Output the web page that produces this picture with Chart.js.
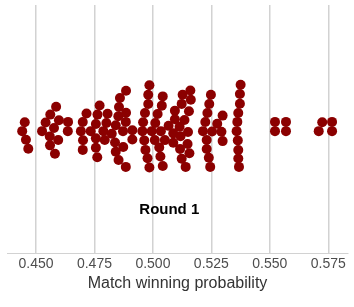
<!DOCTYPE html>
<html>
<head>
<meta charset="utf-8">
<script src="https://cdn.jsdelivr.net/npm/chart.js@4/dist/chart.umd.min.js"></script>
<style>
  html, body { margin: 0; padding: 0; background: #ffffff; }
  #wrap { width: 354px; height: 307px; }
</style>
</head>
<body>
<div id="wrap"><canvas id="c" width="354" height="307"></canvas></div>
<script>
// Match winning probability of each team (x) and its beeswarm offset (in dot rows)
const winProbability = [
  0.4452, 0.4441, 0.4457, 0.4467,
  0.4586, 0.4561, 0.4541, 0.4598, 0.4637, 0.4526, 0.4577, 0.4636, 0.4559, 0.4595, 0.4560, 0.4581,
  0.4772, 0.4716, 0.4763, 0.4806, 0.4700, 0.4756, 0.4801, 0.4692, 0.4734, 0.4788, 0.4701, 0.4756, 0.4794, 0.4700, 0.4756, 0.4762,
  0.4885, 0.4859, 0.4855, 0.4852, 0.4885, 0.4841, 0.4884, 0.4824, 0.4872, 0.4912, 0.4912, 0.4838, 0.4873, 0.4841, 0.4853, 0.4884,
  0.4985, 0.4980, 0.4980, 0.4966, 0.4958, 0.4955, 0.4963, 0.4968, 0.4977, 0.4985,
  0.5042, 0.5038, 0.5020, 0.5010, 0.4995, 0.5034, 0.5008, 0.5027, 0.5032, 0.5042, 0.5067, 0.5051,
  0.5094, 0.5094, 0.5087, 0.5087, 0.5127, 0.5160, 0.5162, 0.5123, 0.5154, 0.5135, 0.5114, 0.5150, 0.5118, 0.5148, 0.5116, 0.5156, 0.5123, 0.5140,
  0.5248, 0.5241, 0.5233, 0.5224, 0.5214, 0.5253, 0.5230, 0.5230, 0.5239, 0.5245,
  0.5298, 0.5275, 0.5293, 0.5298,
  0.5375, 0.5372, 0.5372, 0.5365, 0.5361, 0.5358, 0.5363, 0.5365, 0.5365, 0.5368,
  0.5522, 0.5569, 0.5522, 0.5569,
  0.5724, 0.5766, 0.5709, 0.5766
];
const swarmOffset = [
  0.48, -0.48, -1.42, -2.38,
  2.15, 1.31, 0.45, 0.70, 0.52, -0.48, -0.14, -0.48, -1.05, -1.43, -2.02, -2.92,
  2.29, 1.42, 1.31, 1.40, 0.51, 0.30, 0.40, -0.48, -0.48, -0.48, -1.47, -1.26, -1.43, -2.51, -2.28, -3.31,
  3.89, 3.10, 2.13, 1.13, 1.51, 0.16, 0.52, -0.77, -0.48, -0.38, -1.38, -1.70, -2.20, -2.71, -3.60, -4.35,
  4.49, 3.46, 2.45, 1.48, 0.48, -0.48, -1.48, -2.51, -3.42, -4.41,
  3.28, 2.28, 1.38, 0.40, -0.48, -0.48, -1.45, -2.24, -3.23, -4.25, 0.09, -1.45,
  1.74, 0.81, -0.72, -1.74, 3.46, 3.92, 2.92, 2.47, 1.67, 0.72, 0.00, -0.57, -1.02, -1.88, -2.42, -2.87, -3.46, -4.35,
  3.46, 2.45, 1.48, 0.51, -0.48, -0.52, -1.43, -2.42, -3.35, -4.35,
  1.20, 0.32, -0.54, -1.56,
  4.54, 3.53, 2.49, 1.48, 0.52, -0.48, -1.48, -2.53, -3.44, -4.35,
  0.52, 0.52, -0.48, -0.48,
  0.48, 0.52, -0.48, -0.48
];
const tickValues = [0.450, 0.475, 0.500, 0.525, 0.550, 0.575];
const tickLabels = ['0.450', '0.475', '0.500', '0.525', '0.550', '0.575'];
const xTitle = 'Match winning probability';
const panelLabel = 'Round 1';
const panelLabelPos = { x: 0.507, y: -9.0 };

const points = winProbability.map((v, i) => ({ x: v, y: swarmOffset[i] }));
const FONT = "'Liberation Sans', Arial, Helvetica, sans-serif";

const panelLabelPlugin = {
  id: 'panelLabel',
  afterDatasetsDraw(chart) {
    const { ctx, scales } = chart;
    ctx.save();
    ctx.font = 'bold 15px ' + FONT;
    ctx.fillStyle = '#000000';
    ctx.textAlign = 'center';
    ctx.textBaseline = 'middle';
    ctx.fillText(panelLabel, scales.x.getPixelForValue(panelLabelPos.x), scales.y.getPixelForValue(panelLabelPos.y));
    ctx.restore();
  }
};

new Chart(document.getElementById('c'), {
  type: 'scatter',
  data: {
    datasets: [{
      data: points,
      backgroundColor: '#8b0000',
      borderColor: '#8b0000',
      borderWidth: 0,
      pointRadius: 5,
      pointHoverRadius: 5
    }]
  },
  options: {
    responsive: false,
    animation: false,
    events: [],
    layout: { padding: { left: 7, right: 6, top: 5, bottom: 15.6 } },
    plugins: { legend: { display: false }, tooltip: { enabled: false }, title: { display: false } },
    scales: {
      x: {
        type: 'linear',
        min: 0.4376,
        max: 0.58342,
        afterBuildTicks(scale) { scale.ticks = tickValues.map(v => ({ value: v })); },
        ticks: {
          callback: (v, i) => tickLabels[i],
          color: '#4d4d4d',
          padding: 2.6,
          maxRotation: 0,
          autoSkip: false,
          font: { family: FONT, size: 14 }
        },
        grid: { color: '#d2d2d2', lineWidth: 1.5, drawTicks: false },
        border: { display: true, color: '#d2d2d2', width: 1 },
        title: {
          display: true,
          text: xTitle,
          color: '#333333',
          padding: { top: 0, bottom: 0 },
          font: { family: FONT, size: 16, lineHeight: 1 }
        }
      },
      y: {
        type: 'linear',
        display: false,
        min: -13.71,
        max: 13.17
      }
    }
  },
  plugins: [panelLabelPlugin]
});
</script>
</body>
</html>
